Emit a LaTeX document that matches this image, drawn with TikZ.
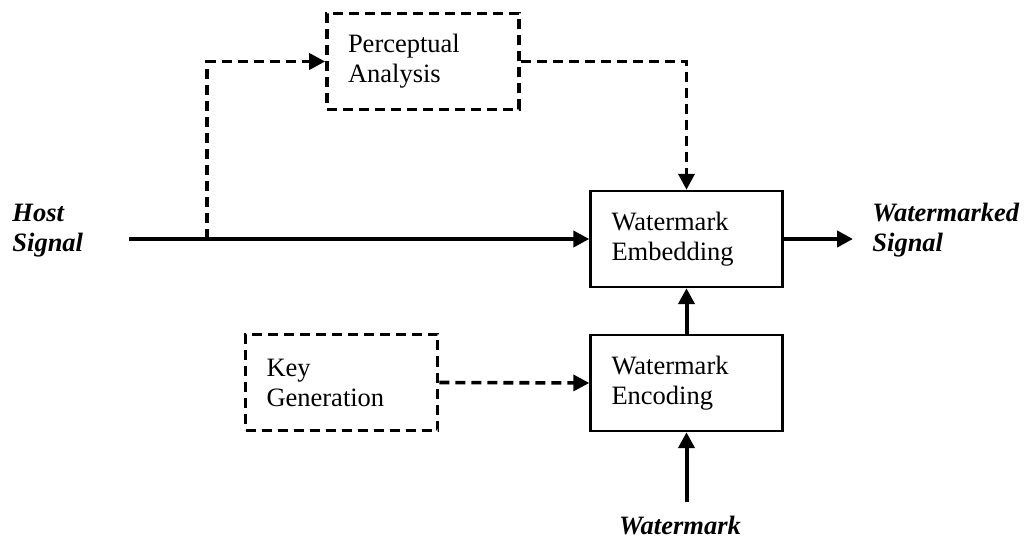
\documentclass[tikz,border=0pt]{standalone}
\usepackage{fontspec}
\setmainfont{Liberation Serif}
\usepackage{tikz}
\usetikzlibrary{arrows.meta}
\usetikzlibrary{positioning}
\tikzset{flow/.style = {line width = 2pt, -{Triangle[length = 8pt, width = 8pt]}}}
\tikzset{dflow/.style = {flow, line width = 1.8pt, dash pattern = on 5pt off 3pt}}
\tikzset{block/.style = {draw, line width = 1.2pt, minimum width = 96pt, minimum height = 48pt,
                         text width = 75pt, inner xsep = 10.5pt, align = left,
                         font = \fontsize{13.25pt}{15pt}\selectfont}}
\tikzset{dblock/.style = {block, line width = 1.8pt, dash pattern = on 5pt off 3pt}}
\tikzset{sig/.style = {align = left, inner sep = 0,
                       font = \fontsize{13.25pt}{15pt}\selectfont\bfseries\itshape}}

\begin{document}
\begin{tikzpicture}[x=0.5pt, y=-0.5pt]
      \useasboundingbox (0, 0) rectangle (1030, 540);
      \node (percep) at (423, 61.5) [dblock] {Perceptual\\Analysis};
      \node (embed) at (686.5, 239) [block] {Watermark\\Embedding};
      \node (encode) at (686.5, 383) [block] {Watermark\\Encoding};
      \node (keygen) at (341.5, 382.5) [dblock] {Key\\Generation};

      \node (host) at (12, 231) [sig, anchor = west] {Host\\Signal};
      \node (marked) at (872, 230) [sig, anchor = west] {Watermarked\\Signal};
      \node (wmark) at (680, 526) [sig] {Watermark};

      \coordinate (hostin) at (129, 239);
      \coordinate (tap) at (207, 239);
      \coordinate (out) at (853, 239);
      \coordinate (wmin) at (686.5, 502);

      \draw [flow] (hostin) -- (embed.west);
      \draw [dflow] (tap) |- (percep.west);
      \draw [dflow] (percep.east) -| (embed.north);
      \draw [flow] (embed.east) -- (out);
      \draw [flow] (encode.north) -- (embed.south);
      \draw [dflow] (keygen.east) -- (encode.west);
      \draw [flow] (wmin) -- (encode.south);
    \end{tikzpicture}
\end{document}
